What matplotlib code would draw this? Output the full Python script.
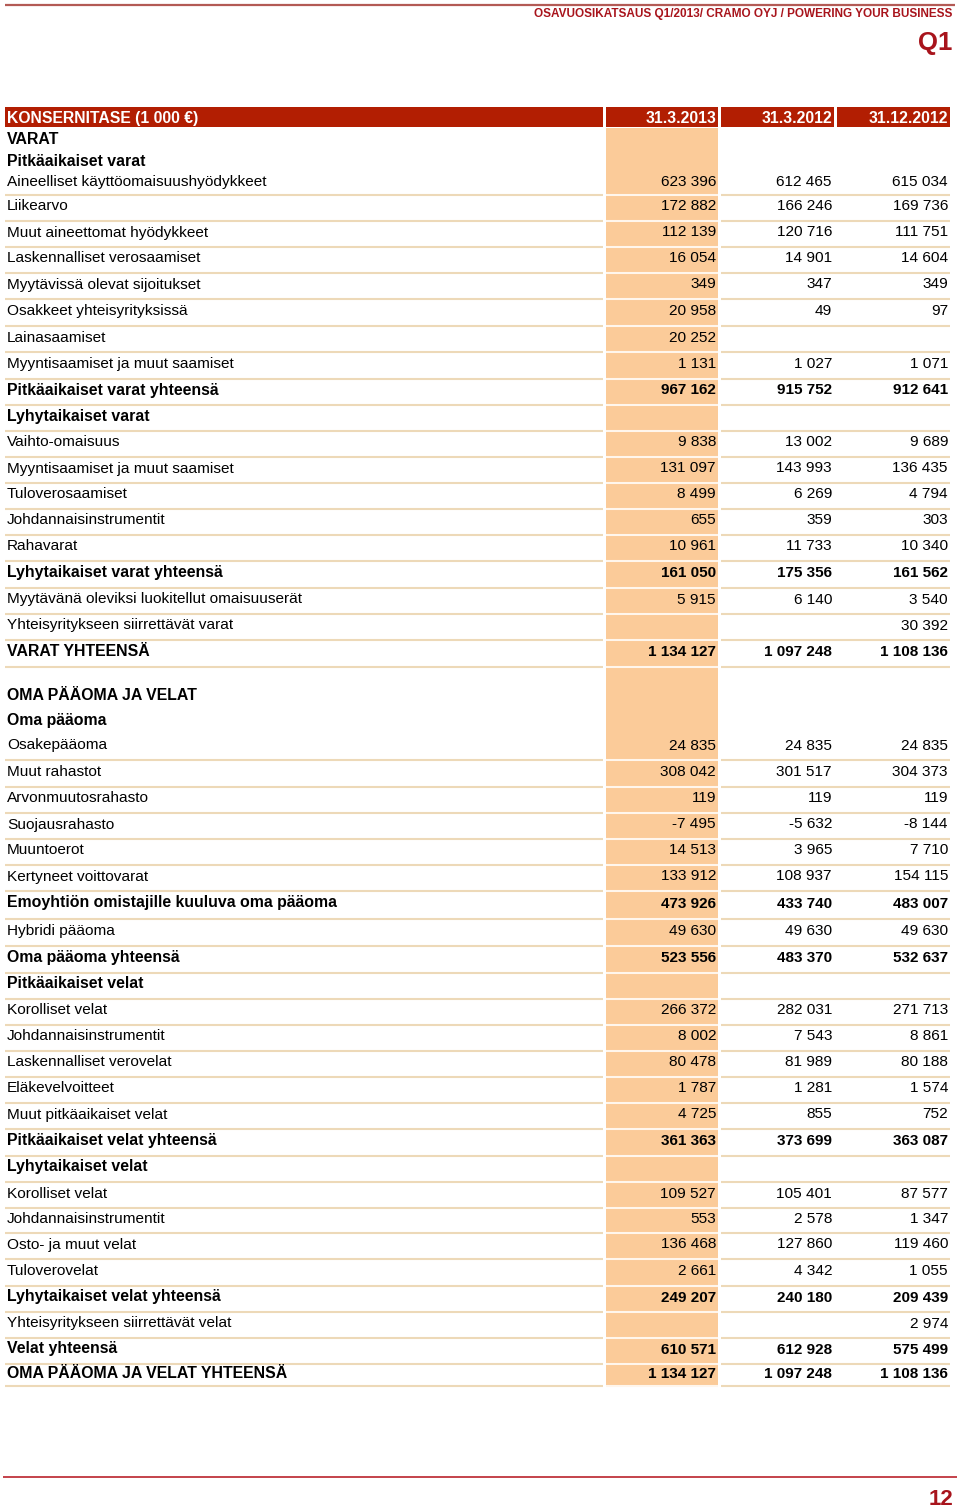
import matplotlib
matplotlib.use("Agg")
import matplotlib.pyplot as plt
from matplotlib.patches import Rectangle

plt.rcParams["font.family"] = ["Liberation Sans", "DejaVu Sans"]

# %% data
title = "KONSERNITASE (1 000 €)"
periods = ["31.3.2013", "31.3.2012", "31.12.2012"]

labels = [
    "VARAT", "Pitkäaikaiset varat",
    "Aineelliset käyttöomaisuushyödykkeet", "Liikearvo", "Muut aineettomat hyödykkeet",
    "Laskennalliset verosaamiset", "Myytävissä olevat sijoitukset", "Osakkeet yhteisyrityksissä",
    "Lainasaamiset", "Myyntisaamiset ja muut saamiset", "Pitkäaikaiset varat yhteensä",
    "Lyhytaikaiset varat", "Vaihto-omaisuus", "Myyntisaamiset ja muut saamiset",
    "Tuloverosaamiset", "Johdannaisinstrumentit", "Rahavarat", "Lyhytaikaiset varat yhteensä",
    "Myytävänä oleviksi luokitellut omaisuuserät", "Yhteisyritykseen siirrettävät varat",
    "VARAT YHTEENSÄ",
    "",
    "OMA PÄÄOMA JA VELAT", "Oma pääoma", "Osakepääoma", "Muut rahastot", "Arvonmuutosrahasto",
    "Suojausrahasto", "Muuntoerot", "Kertyneet voittovarat",
    "Emoyhtiön omistajille kuuluva oma pääoma", "Hybridi pääoma", "Oma pääoma yhteensä",
    "Pitkäaikaiset velat", "Korolliset velat", "Johdannaisinstrumentit",
    "Laskennalliset verovelat", "Eläkevelvoitteet", "Muut pitkäaikaiset velat",
    "Pitkäaikaiset velat yhteensä", "Lyhytaikaiset velat", "Korolliset velat",
    "Johdannaisinstrumentit", "Osto- ja muut velat", "Tuloverovelat",
    "Lyhytaikaiset velat yhteensä", "Yhteisyritykseen siirrettävät velat", "Velat yhteensä",
    "OMA PÄÄOMA JA VELAT YHTEENSÄ",
]

q1_2013 = [None, None, 623396, 172882, 112139, 16054, 349, 20958, 20252, 1131, 967162,
           None, 9838, 131097, 8499, 655, 10961, 161050, 5915, None, 1134127,
           None,
           None, None, 24835, 308042, 119, -7495, 14513, 133912, 473926, 49630, 523556,
           None, 266372, 8002, 80478, 1787, 4725, 361363, None, 109527, 553, 136468,
           2661, 249207, None, 610571, 1134127]
q1_2012 = [None, None, 612465, 166246, 120716, 14901, 347, 49, None, 1027, 915752,
           None, 13002, 143993, 6269, 359, 11733, 175356, 6140, None, 1097248,
           None,
           None, None, 24835, 301517, 119, -5632, 3965, 108937, 433740, 49630, 483370,
           None, 282031, 7543, 81989, 1281, 855, 373699, None, 105401, 2578, 127860,
           4342, 240180, None, 612928, 1097248]
fy_2012 = [None, None, 615034, 169736, 111751, 14604, 349, 97, None, 1071, 912641,
           None, 9689, 136435, 4794, 303, 10340, 161562, 3540, 30392, 1108136,
           None,
           None, None, 24835, 304373, 119, -8144, 7710, 154115, 483007, 49630, 532637,
           None, 271713, 8861, 80188, 1574, 752, 363087, None, 87577, 1347, 119460,
           1055, 209439, 2974, 575499, 1108136]

# %% styles / layout
bold_labels = {
    "VARAT", "Pitkäaikaiset varat", "Pitkäaikaiset varat yhteensä", "Lyhytaikaiset varat",
    "Lyhytaikaiset varat yhteensä", "VARAT YHTEENSÄ", "OMA PÄÄOMA JA VELAT", "Oma pääoma",
    "Emoyhtiön omistajille kuuluva oma pääoma", "Oma pääoma yhteensä", "Pitkäaikaiset velat",
    "Pitkäaikaiset velat yhteensä", "Lyhytaikaiset velat", "Lyhytaikaiset velat yhteensä",
    "Velat yhteensä", "OMA PÄÄOMA JA VELAT YHTEENSÄ",
}
no_rule = {"VARAT", "Pitkäaikaiset varat", "", "OMA PÄÄOMA JA VELAT", "Oma pääoma"}

heights = [26, 18, 23, 26, 26, 26, 26, 27, 26, 27, 26, 26, 26, 26, 26, 26, 26, 27, 26, 26, 27,
           19,
           24, 24, 26, 27, 26, 26, 26, 26, 28, 27, 27, 26, 26, 26, 26, 26, 26, 27, 26, 26, 25,
           26, 27, 26, 26, 26, 22]

RED = "#B21E02"
DARKRED = "#A8141C"
PEACH = "#FBCB99"
TAN = "#EDD9B8"

cols = [(5, 603), (606, 718), (721, 834), (837, 950)]
header_top, header_bot = 107, 127

fig = plt.figure(figsize=(9.6, 15.11), dpi=100)
ax = fig.add_axes([0, 0, 1, 1])
ax.set_xlim(0, 960)
ax.set_ylim(1511, 0)
ax.axis("off")

# page header / footer
ax.plot([5, 955], [4.5, 4.5], color="#B35A55", lw=1.6, solid_capstyle="butt")
ax.text(952, 17, "OSAVUOSIKATSAUS Q1/2013/ CRAMO OYJ / POWERING YOUR BUSINESS",
        ha="right", va="baseline", fontsize=8.5, fontweight="bold", color=DARKRED)
ax.text(952, 50, "Q1", ha="right", va="baseline", fontsize=18.5, fontweight="bold", color=DARKRED)
ax.plot([3, 957], [1477, 1477], color="#C4424B", lw=1.4, solid_capstyle="butt")
ax.text(953, 1505, "12", ha="right", va="baseline", fontsize=16, fontweight="bold", color=DARKRED)

# table header
for x0, x1 in cols:
    ax.add_patch(Rectangle((x0, header_top), x1 - x0, header_bot - header_top, color=RED, lw=0))
hb = (header_top + header_bot) / 2 + 6
ax.text(cols[0][0] + 2, hb, title, ha="left", va="baseline", fontsize=11.3,
        fontweight="bold", color="white")
for (x0, x1), p in zip(cols[1:], periods):
    ax.text(x1 - 2, hb, p, ha="right", va="baseline", fontsize=11.3,
            fontweight="bold", color="white")

# rows
top = header_bot + 1
bottom_all = top + sum(heights)
ax.add_patch(Rectangle((cols[1][0], top), cols[1][1] - cols[1][0], bottom_all - top,
                       color=PEACH, lw=0))

def fmt(v):
    if v is None:
        return ""
    return f"{v:,}".replace(",", " ")

y = top
for lab, a, b, c, h in zip(labels, q1_2013, q1_2012, fy_2012, heights):
    base = y + h / 2 + 2.5
    bold = lab in bold_labels
    fw = "bold" if bold else "normal"
    ax.text(cols[0][0] + 2, base, lab, ha="left", va="baseline",
            fontsize=11.4 if bold else 11.1, fontweight=fw, color="black")
    for (x0, x1), v in zip(cols[1:], (a, b, c)):
        ax.text(x1 - 2, base, fmt(v), ha="right", va="baseline",
                fontsize=11 if bold else 11.1, fontweight=fw, color="black")
    yb = y + h
    if lab not in no_rule:
        ax.plot([cols[0][0], cols[0][1]], [yb, yb], color=TAN, lw=1.5, solid_capstyle="butt")
        ax.plot([cols[1][0], cols[1][1]], [yb, yb], color="#FFF6EC", lw=1.5, solid_capstyle="butt")
        ax.plot([cols[2][0], cols[3][1]], [yb, yb], color=TAN, lw=1.5, solid_capstyle="butt")
    y = yb

fig.savefig("out.png", dpi=100)
